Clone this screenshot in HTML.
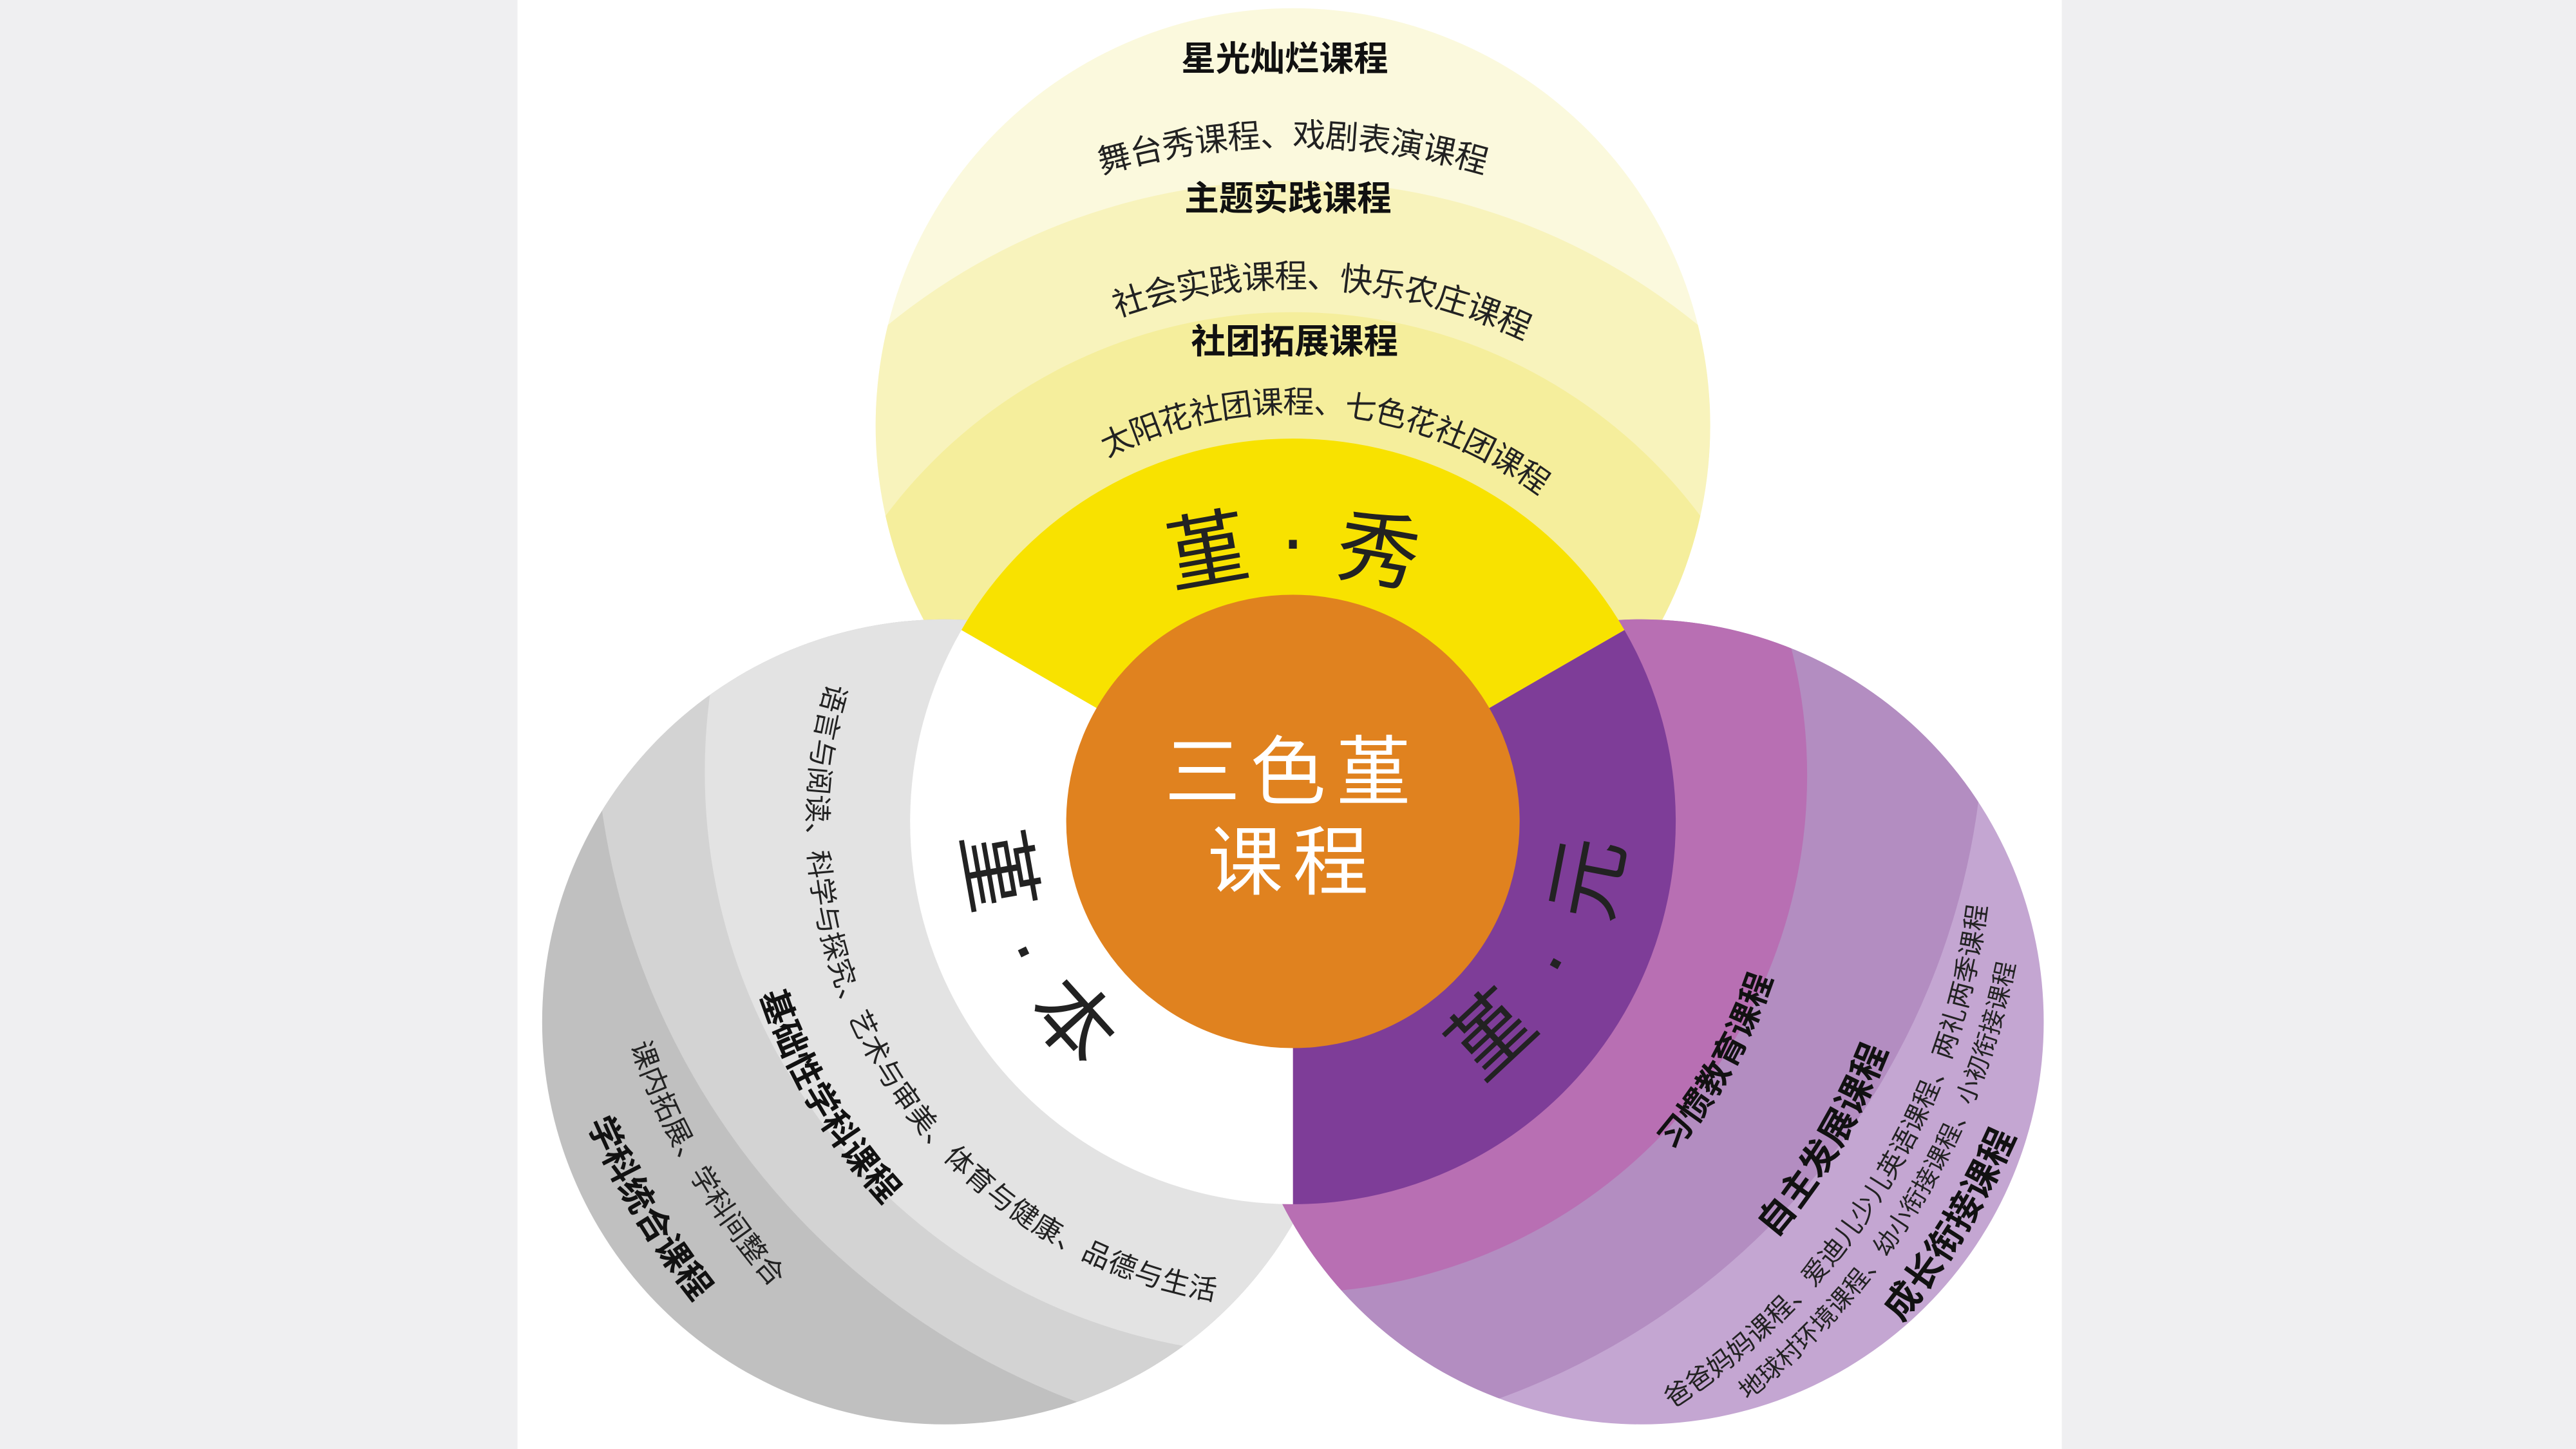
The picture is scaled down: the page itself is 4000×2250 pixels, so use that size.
<!DOCTYPE html>
<html><head><meta charset="utf-8"><style>
html,body{margin:0;padding:0;background:#efeff1;}
svg{display:block;}
text{font-family:"Liberation Sans","Noto Sans CJK SC",sans-serif;fill:#222;}
.b{font-weight:bold;fill:#111;}
</style></head><body>
<svg width="4000" height="2250" viewBox="0 0 1568 882" preserveAspectRatio="none" xmlns="http://www.w3.org/2000/svg">
<defs>
<clipPath id="cy"><circle cx="787" cy="259" r="254"/></clipPath>
<clipPath id="cg"><circle cx="575" cy="622" r="245"/></clipPath>
<clipPath id="cp"><circle cx="999" cy="622" r="245"/></clipPath>
<path id="g290" d="M787,210 A290,290 0 1 0 787,790 A290,290 0 1 0 787,210"/>
<path id="g334" d="M787,166 A334,334 0 1 0 787,834 A334,334 0 1 0 787,166"/>
<path id="g420" d="M787,80 A420,420 0 1 0 787,920 A420,420 0 1 0 787,80"/>
<path id="g460" d="M787,40 A460,460 0 1 0 787,960 A460,460 0 1 0 787,40"/>
<path id="p300" d="M787,200 A300,300 0 1 0 787,800 A300,300 0 1 0 787,200"/>
<path id="p380" d="M787,120 A380,380 0 1 0 787,880 A380,380 0 1 0 787,120"/>
<path id="p420" d="M787,80 A420,420 0 1 0 787,920 A420,420 0 1 0 787,80"/>
<path id="p443" d="M787,57 A443,443 0 1 0 787,943 A443,443 0 1 0 787,57"/>
<path id="p472" d="M787,28 A472,472 0 1 0 787,972 A472,472 0 1 0 787,28"/>
<path id="y418" d="M787,918 A418,418 0 1 1 787,82 A418,418 0 1 1 787,918"/>
<path id="y332" d="M787,832 A332,332 0 1 1 787,168 A332,332 0 1 1 787,832"/>
<path id="y255" d="M787,755 A255,255 0 1 1 787,245 A255,255 0 1 1 787,755"/>
</defs>
<rect x="315" y="0" width="940" height="882" fill="#ffffff"/>

<g clip-path="url(#cy)">
<rect x="500" y="0" width="600" height="520" fill="#fbf9dd"/>
<circle cx="787" cy="500" r="390" fill="#f8f3bc"/>
<circle cx="787" cy="500" r="310" fill="#f5ee9c"/>
</g>

<g clip-path="url(#cg)">
<rect x="300" y="350" width="560" height="560" fill="#c0c0c0"/>
<circle cx="814" cy="430" r="452" fill="#d3d3d3"/>
<circle cx="784" cy="470" r="355" fill="#e3e3e3"/>
</g>

<g clip-path="url(#cp)">
<rect x="740" y="350" width="560" height="560" fill="#c4a6d2"/>
<circle cx="760" cy="430" r="448" fill="#b38dc1"/>
<circle cx="785" cy="472" r="315" fill="#b86fb3"/>
</g>

<path d="M787,500 L585.2,383.5 A233,233 0 0 1 988.8,383.5 Z" fill="#f8e200"/>
<path d="M787,500 L988.8,383.5 A233,233 0 0 1 787,733 Z" fill="#7e3d98"/>
<path d="M787,500 L787,733 A233,233 0 0 1 585.2,383.5 Z" fill="#ffffff"/>
<circle cx="787" cy="500" r="138" fill="#e0821f"/>

<text x="787" y="486" text-anchor="middle" font-size="46" style="fill:#fff;letter-spacing:6px">三色堇</text>
<text x="787" y="541" text-anchor="middle" font-size="46" style="fill:#fff;letter-spacing:6px">课程</text>

<g font-size="50" text-anchor="middle" dominant-baseline="central">
<text x="735" y="336" transform="rotate(-10 735 336)">堇</text>
<text x="787" y="328">·</text>
<text x="839" y="336" transform="rotate(10 839 336)">秀</text>
<text x="607" y="530" transform="rotate(80 607 530)">堇</text>
<text x="626" y="578" transform="rotate(64 626 578)">·</text>
<text x="653" y="622" transform="rotate(48 653 622)">本</text>
<text x="967" y="535" transform="rotate(-79 967 535)">元</text>
<text x="944" y="585" transform="rotate(-61 944 585)">·</text>
<text x="908" y="630" transform="rotate(-43 908 630)">堇</text>
</g>

<text class="b" x="782" y="43" text-anchor="middle" font-size="21">星光灿烂课程</text>
<text class="b" x="784" y="128" text-anchor="middle" font-size="21">主题实践课程</text>
<text class="b" x="788" y="215" text-anchor="middle" font-size="21">社团拓展课程</text>
<text font-size="20" text-anchor="middle" dominant-baseline="central"><textPath href="#y418" startOffset="50%">舞台秀课程、戏剧表演课程</textPath></text>
<text font-size="20" text-anchor="middle" dominant-baseline="central"><textPath href="#y332" startOffset="50.9%">社会实践课程、快乐农庄课程</textPath></text>
<text font-size="19" text-anchor="middle" dominant-baseline="central"><textPath href="#y255" startOffset="51.4%">太阳花社团课程、七色花社团课程</textPath></text>

<text font-size="17" text-anchor="middle" dominant-baseline="central"><textPath href="#g290" startOffset="33.9%">语言与阅读、科学与探究、艺术与审美、体育与健康、品德与生活</textPath></text>
<text class="b" font-size="21" text-anchor="middle" dominant-baseline="central"><textPath href="#g334" startOffset="33.5%">基础性学科课程</textPath></text>
<text font-size="17" text-anchor="middle" dominant-baseline="central"><textPath href="#g420" startOffset="33.4%">课内拓展、学科间整合</textPath></text>
<text class="b" font-size="21" text-anchor="middle" dominant-baseline="central"><textPath href="#g460" startOffset="33.6%">学科统合课程</textPath></text>

<text class="b" font-size="20" text-anchor="middle" dominant-baseline="central"><textPath href="#p300" startOffset="66.8%">习惯教育课程</textPath></text>
<text class="b" font-size="22" text-anchor="middle" dominant-baseline="central"><textPath href="#p380" startOffset="66.4%">自主发展课程</textPath></text>
<text font-size="16" text-anchor="middle" dominant-baseline="central"><textPath href="#p420" startOffset="66.1%">爸爸妈妈课程、爱迪儿少儿英语课程、两礼两季课程</textPath></text>
<text font-size="15" text-anchor="middle" dominant-baseline="central"><textPath href="#p443" startOffset="66.25%">地球村环境课程、幼小衔接课程、小初衔接课程</textPath></text>
<text class="b" font-size="22" text-anchor="middle" dominant-baseline="central"><textPath href="#p472" startOffset="66.25%">成长衔接课程</textPath></text>
</svg>
</body></html>
